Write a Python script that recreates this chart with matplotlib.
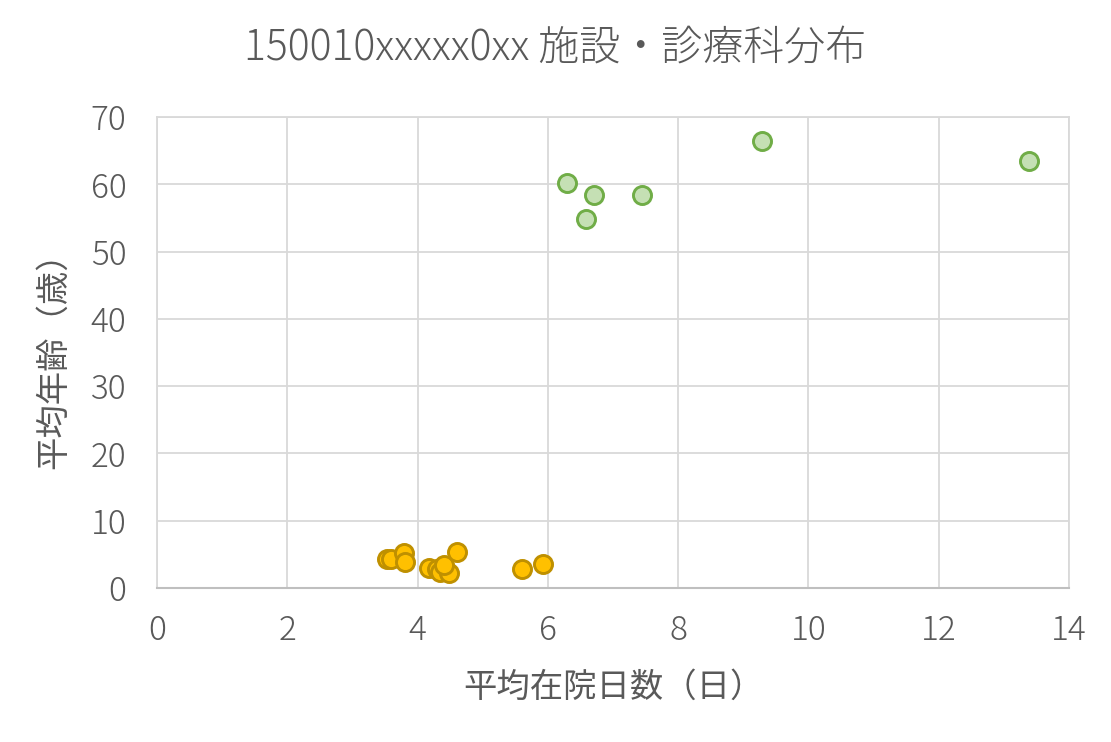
import matplotlib.pyplot as plt
import matplotlib.ticker as ticker

plt.rcParams["font.family"] = ["Noto Sans CJK JP", "DejaVu Sans"]
plt.rcParams["font.weight"] = "light"

TEXT = "#595959"
GRID = "#D9D9D9"

# orange group: short stay, young patients
orange_x = [3.53, 3.59, 3.79, 3.81, 4.17, 4.30, 4.34, 4.49, 4.41, 4.61, 5.61, 5.93]
orange_y = [4.3, 4.3, 5.15, 3.9, 2.9, 2.8, 2.4, 2.3, 3.4, 5.3, 2.8, 3.6]

# green group: older patients
green_x = [6.30, 6.71, 7.45, 6.59, 9.29, 13.39]
green_y = [60.2, 58.4, 58.4, 54.8, 66.5, 63.4]

title = "150010xxxxx0xx 施設・診療科分布"
xlabel = "平均在院日数（日）"
ylabel = "平均年齢（歳）"

fig = plt.figure(figsize=(11.11, 7.42), dpi=100)
ax = fig.add_axes([157 / 1111, (742 - 588) / 742, 912 / 1111, 471 / 742])

ax.plot(orange_x, orange_y, "o", ms=13, mfc="#FFC000", mec="#BF9000", mew=2.1,
        zorder=3, clip_on=False)
ax.plot(green_x, green_y, "o", ms=13, mfc="#C5E0B4", mec="#70AD47", mew=2.1,
        zorder=3, clip_on=False)

ax.set_xlim(0, 14)
ax.set_ylim(0, 70)
ax.xaxis.set_major_locator(ticker.MultipleLocator(2))
ax.yaxis.set_major_locator(ticker.MultipleLocator(10))
ax.grid(True, color=GRID, linewidth=1.3)
ax.set_axisbelow(True)
for side in ["top", "right", "left"]:
    ax.spines[side].set_color(GRID)
    ax.spines[side].set_linewidth(1.3)
ax.spines["bottom"].set_color("#BFBFBF")
ax.spines["bottom"].set_linewidth(1.5)

ax.tick_params(length=0, labelsize=24, labelcolor=TEXT)
ax.tick_params(axis="y", pad=22)
ax.tick_params(axis="x", pad=18)

ax.set_xlabel(xlabel, fontsize=24, color=TEXT, labelpad=16)
ax.set_ylabel(ylabel, fontsize=24, color=TEXT, labelpad=14)
fig.text(0.5, 1 - 48 / 742, title, fontsize=29.5,
         color=TEXT, ha="center", va="center")

fig.savefig("out.png", dpi=100)
